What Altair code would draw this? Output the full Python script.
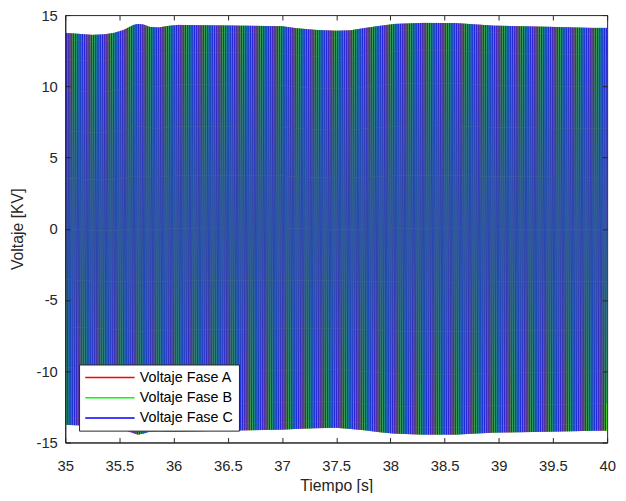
import numpy as np
import pandas as pd
import altair as alt

# --- values -------------------------------------------------------------
# envelope (peak values) of the three-phase voltage, kV
env_t = [35.0, 35.13, 35.25, 35.36, 35.45, 35.54, 35.63, 35.67, 35.72, 35.78, 35.86,
         35.95, 36.04, 36.5, 37.0, 37.13, 37.31, 37.5, 37.63, 37.77, 37.9, 38.04,
         38.3, 38.6, 38.95, 39.2, 39.5, 39.86, 40.0]
env_top = [13.75, 13.68, 13.61, 13.65, 13.75, 13.96, 14.31, 14.38, 14.34, 14.17, 14.13,
           14.24, 14.31, 14.27, 14.22, 14.08, 13.96, 13.90, 13.93, 14.10, 14.24, 14.38,
           14.45, 14.44, 14.26, 14.22, 14.17, 14.10, 14.10]
env_bot = [-13.76, -13.80, -13.83, -13.90, -14.00, -14.10, -14.35, -14.45, -14.38, -14.24, -14.22,
           -14.24, -14.24, -14.17, -14.10, -14.05, -14.00, -13.97, -14.05, -14.15, -14.28, -14.38,
           -14.45, -14.45, -14.31, -14.28, -14.24, -14.18, -14.17]
freq_hz = 60.0                      # network frequency
phase_deg = [120.0, 0.0, 240.0]     # phase angle of A, B, C at t = 35 s
series = ["Voltaje Fase A", "Voltaje Fase B", "Voltaje Fase C"]
colors = ["#ff0000", "#00ff00", "#0000ff"]
x_ticks = [35, 35.5, 36, 36.5, 37, 37.5, 38, 38.5, 39, 39.5, 40]
y_ticks = [-15, -10, -5, 0, 5, 10, 15]

# --- sampled waveform ------------------------------------------------------
samples_per_cycle = 24
n = int(round((env_t[-1] - env_t[0]) * freq_hz * samples_per_cycle)) + 1
t = np.linspace(env_t[0], env_t[-1], n)
top = np.interp(t, env_t, env_top)
bot = np.interp(t, env_t, env_bot)
amp = (top - bot) / 2.0
mid = (top + bot) / 2.0
wide = {"t": np.round(t, 6)}
for name, ph in zip(series, phase_deg):
    wide[name] = np.round(mid + amp * np.sin(2 * np.pi * freq_hz * (t - env_t[0]) + np.radians(ph)), 3)
df = pd.DataFrame(wide)

axis_col = "#262626"
font = "Liberation Sans"

chart = (
    alt.Chart(df)
    .transform_fold(series, as_=["fase", "v"])
    .mark_line(strokeWidth=0.6, clip=True)
    .encode(
        x=alt.X(
            "t:Q",
            scale=alt.Scale(domain=[35, 40], nice=False, zero=False),
            axis=alt.Axis(
                values=x_ticks, labelExpr="'' + datum.value", title="Tiempo [s]",
                grid=True, gridDash=[5, 423, 5], gridColor=axis_col, gridOpacity=1, gridWidth=1,
                ticks=False, domainColor=axis_col, labelColor=axis_col, labelFontSize=15,
                labelPadding=16, labelFlush=False, labelOverlap=False,
                titleFontSize=16, titleFontWeight="normal", titleColor=axis_col,
                titleY=44, titleBaseline="middle", zindex=1,
            ),
        ),
        y=alt.Y(
            "v:Q",
            scale=alt.Scale(domain=[-15, 15], nice=False, zero=False),
            axis=alt.Axis(
                values=y_ticks, labelExpr="'' + datum.value", title="Voltaje [KV]",
                grid=True, gridDash=[5, 539, 5], gridColor=axis_col, gridOpacity=1, gridWidth=1,
                ticks=False, domainColor=axis_col, labelColor=axis_col, labelFontSize=15,
                labelPadding=8, labelFlush=False, labelOverlap=False,
                titleFontSize=16, titleFontWeight="normal", titleColor=axis_col,
                titleX=-48, titleY=216.5, titleBaseline="middle", zindex=1,
            ),
        ),
        color=alt.Color(
            "fase:N",
            scale=alt.Scale(domain=series, range=colors),
            legend=alt.Legend(
                title=None, orient="none", legendX=14, legendY=354,
                symbolType="M-4,0H4", symbolSize=156.25, symbolStrokeWidth=1.5,
                symbolOffset=18, labelOffset=23, padding=6, rowPadding=5.5,
                strokeColor=axis_col, fillColor="white", cornerRadius=0,
                labelFont=font, labelFontSize=14.5, labelColor="black",
            ),
        ),
    )
    .properties(
        width=549, height=433,
        autosize=alt.AutoSizeParams(type="none"),
        padding={"left": 58, "top": 4, "right": 11, "bottom": 48},
    )
    .configure(font=font)
    .configure_view(stroke=axis_col, strokeWidth=1)
)

chart.save("out.html", embed_options={"renderer": "svg", "actions": False})
